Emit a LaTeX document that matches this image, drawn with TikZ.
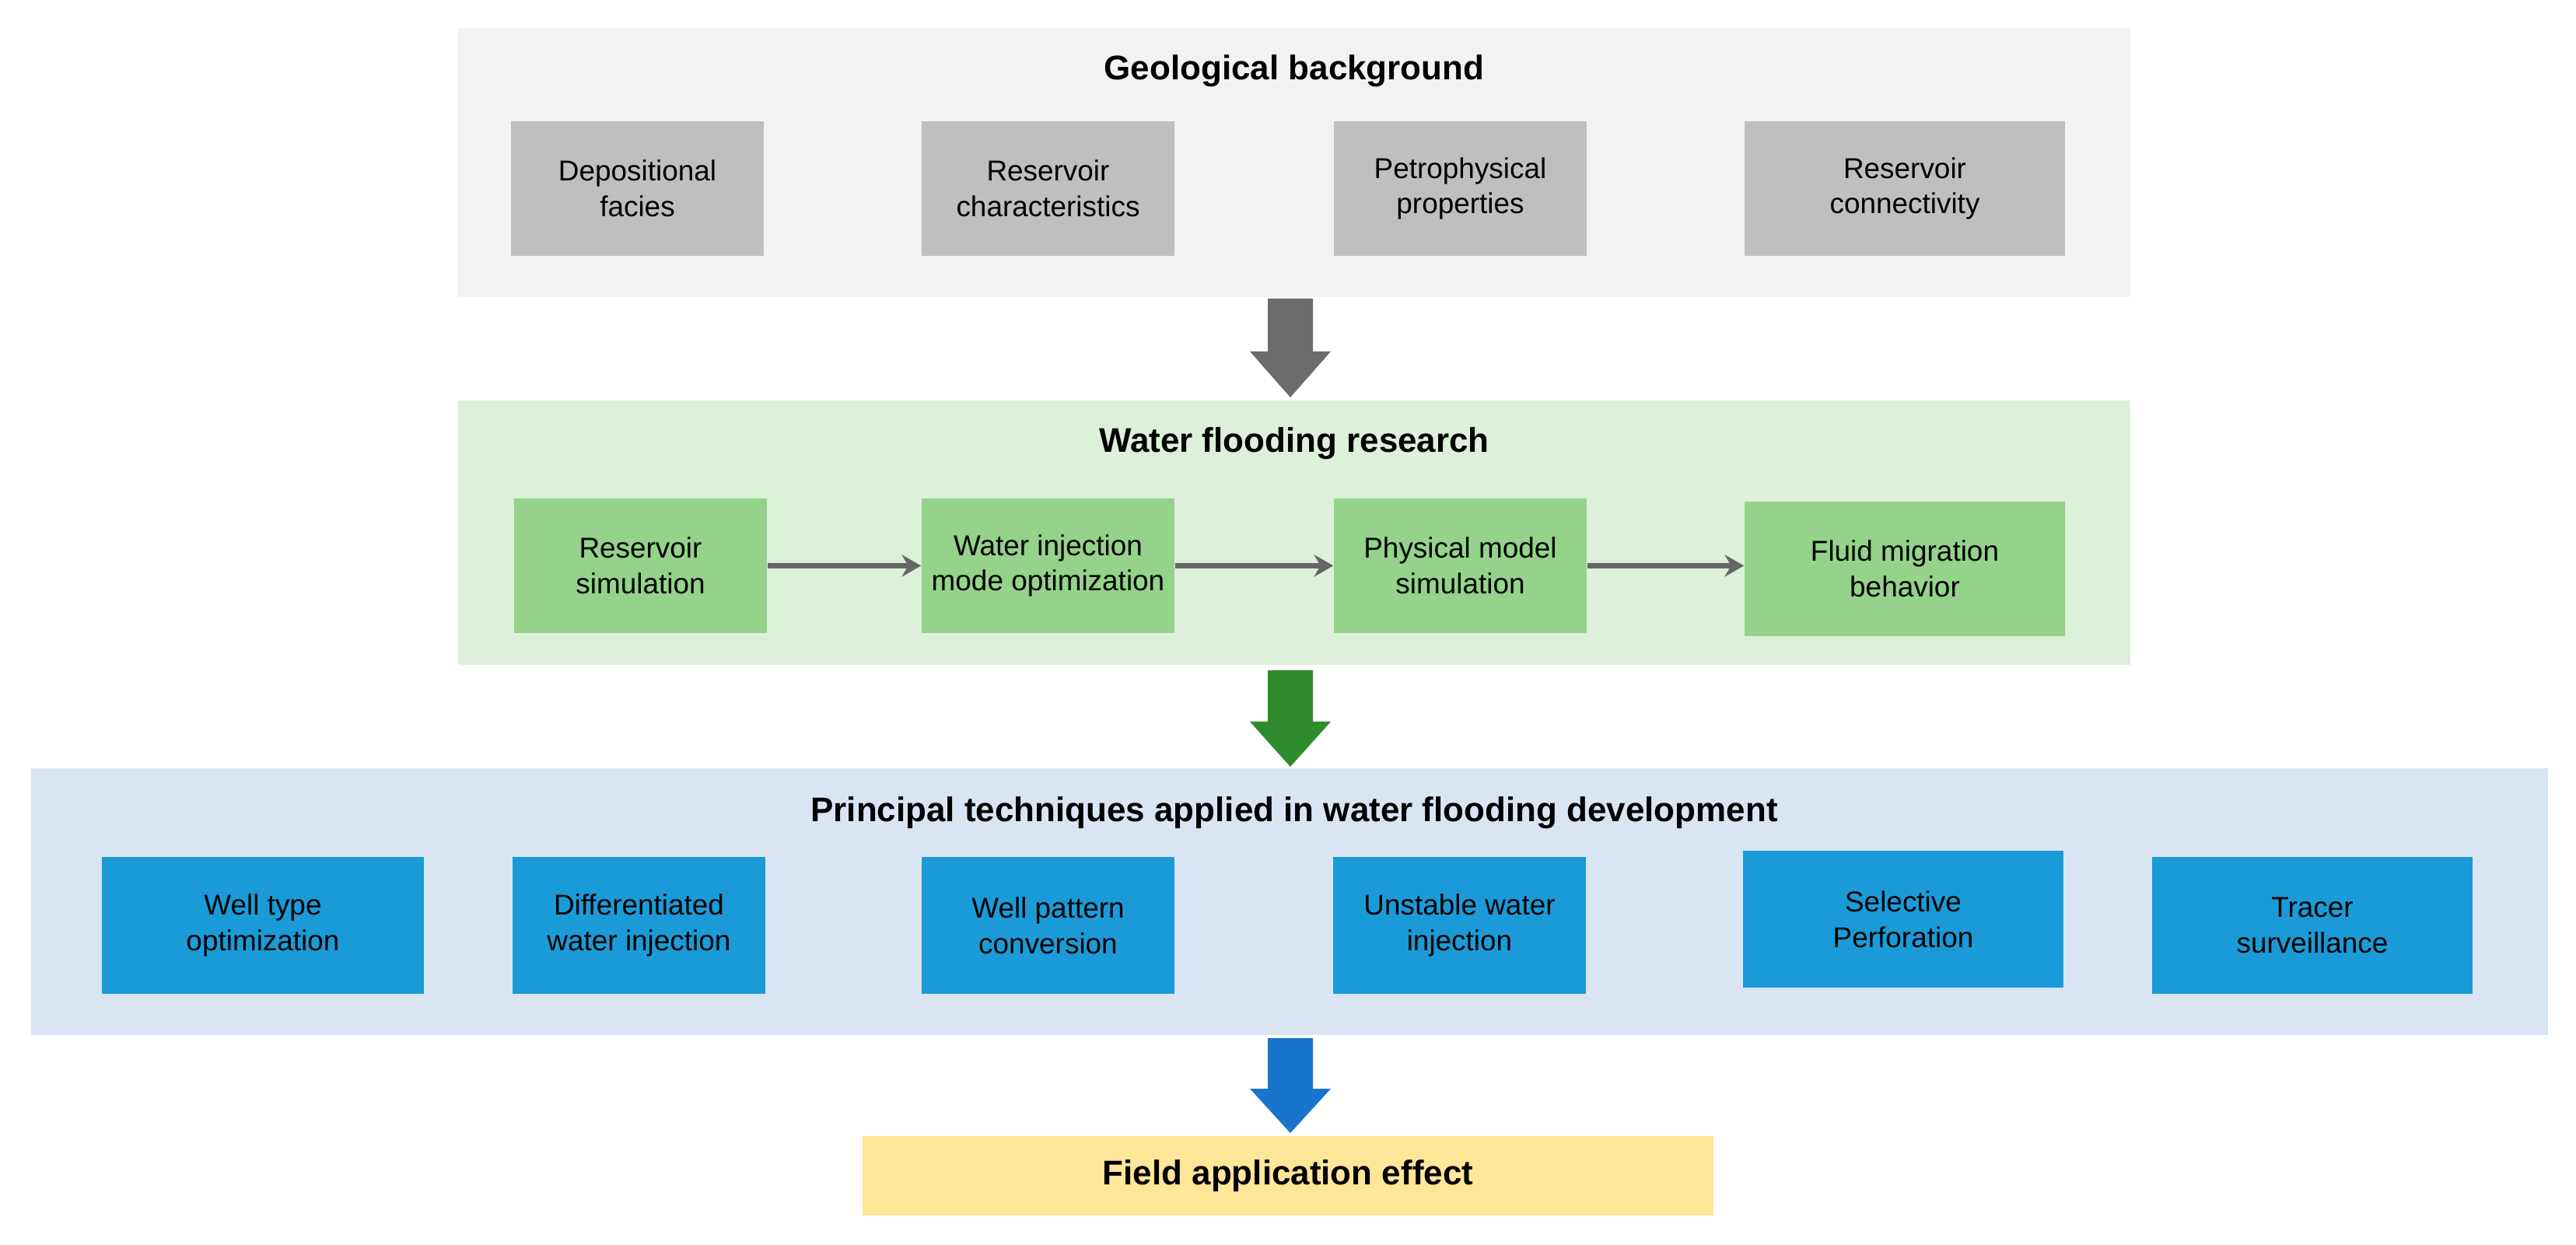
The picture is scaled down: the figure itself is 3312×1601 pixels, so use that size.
\documentclass[tikz,border=0pt]{standalone}
\usepackage{fontspec}
\setmainfont{Liberation Sans}
\usetikzlibrary{arrows.meta}
\begin{document}
\begin{tikzpicture}[x=0.01cm,y=-0.01cm,
 box/.style={draw=none,inner sep=0pt,minimum height=1.73cm,align=center,font=\fontsize{10.5}{13}\selectfont},
 gbox/.style={box,fill=gray!50},
 grbox/.style={box,fill=green1},
 bbox/.style={box,fill=blue1,minimum height=1.76cm},
 ttl/.style={font=\bfseries\fontsize{12.5}{15}\selectfont},
 small/.style={draw=gray!80!black,line width=2.2pt,-{Stealth[length=7pt,width=8pt]}}]
\definecolor{green1}{HTML}{94D389}
\definecolor{blue1}{HTML}{1A9BD8}
\definecolor{gpanel}{HTML}{DDF0DA}
\definecolor{bpanel}{HTML}{DAE5F3}
\definecolor{ylw}{HTML}{FFE699}
\definecolor{dgreen}{HTML}{2E8B2E}
\definecolor{dblue}{HTML}{1874CD}
\useasboundingbox (0,0) rectangle (3312,1601);
% panels
\fill[gray!10] (589,36) rectangle (2739,382);
\fill[gpanel] (589,515) rectangle (2739,855);
\fill[bpanel] (40,988) rectangle (3276,1331);
\node[ttl] (t1) at (1664,91) {Geological background};
\node[ttl] (t2) at (1664,570) {Water flooding research};
\node[ttl] (t3) at (1664,1045) {Principal techniques applied in water flooding development};
% gray
\node[gbox,minimum width=3.25cm] (g1) at (819.5,242.5) {Depositional\\facies};
\node[gbox,minimum width=3.25cm] (g2) at (1347.5,242.5) {Reservoir\\characteristics};
\node[gbox,minimum width=3.25cm] (g3) at (1877.5,242.5) {Petrophysical\\properties};
\node[gbox,minimum width=4.12cm] (g4) at (2449,242.5) {Reservoir\\connectivity};
% green
\node[grbox,minimum width=3.25cm] (r1) at (823.5,727.5) {Reservoir\\simulation};
\node[grbox,minimum width=3.25cm] (r2) at (1347.5,727.5) {Water injection\\mode optimization};
\node[grbox,minimum width=3.25cm] (r3) at (1877.5,727.5) {Physical model\\simulation};
\node[grbox,minimum width=4.12cm] (r4) at (2449,731.5) {Fluid migration\\behavior};
\draw[small] (r1.east) -- (r2.west);
\draw[small] (r2.east) -- (r3.west);
\draw[small] (r3.east) -- (r3.east-|r4.west);
% blue
\node[bbox,minimum width=4.14cm] (b1) at (338,1190) {Well type\\optimization};
\node[bbox,minimum width=3.25cm] (b2) at (821.5,1190) {Differentiated\\water injection};
\node[bbox,minimum width=3.25cm] (b3) at (1347.5,1190) {Well pattern\\conversion};
\node[bbox,minimum width=3.25cm] (b4) at (1876.5,1190) {Unstable water\\injection};
\node[bbox,minimum width=4.12cm] (b5) at (2447,1182) {Selective\\Perforation};
\node[bbox,minimum width=4.12cm] (b6) at (2973,1190) {Tracer\\surveillance};
% yellow
\node[draw=none,fill=ylw,minimum width=10.94cm,minimum height=1.02cm,inner sep=0pt,ttl] (y) at (1656,1512) {Field application effect};
% block arrows
\fill[gray!85!black] (1630,384) -- (1688,384) -- (1688,452) -- (1711,452) -- (1659,511) -- (1607,452) -- (1630,452) -- cycle;
\fill[dgreen] (1630,862) -- (1688,862) -- (1688,928) -- (1711,928) -- (1659,986) -- (1607,928) -- (1630,928) -- cycle;
\fill[dblue] (1630,1335) -- (1688,1335) -- (1688,1400) -- (1711,1400) -- (1659,1457) -- (1607,1400) -- (1630,1400) -- cycle;
\end{tikzpicture}
\end{document}
